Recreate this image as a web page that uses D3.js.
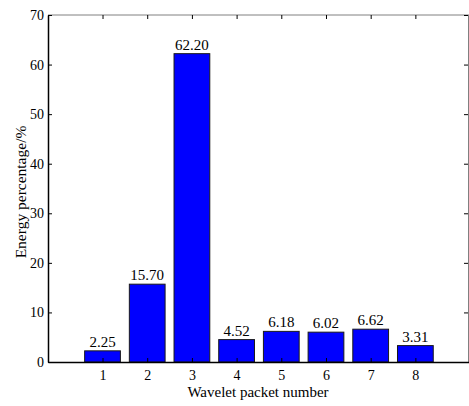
<!DOCTYPE html>
<html><head><meta charset="utf-8">
<script src="https://cdn.jsdelivr.net/npm/d3@7"></script>
<style>body{margin:0;background:#fff}svg{display:block}text{font-family:"Liberation Serif","Times New Roman",serif}</style>
</head><body>
<svg id="c" width="469" height="406"></svg>
<script>
const categories = [1,2,3,4,5,6,7,8];
const values = [2.25,15.70,62.20,4.52,6.18,6.02,6.62,3.31];
const valueLabels = ["2.25","15.70","62.20","4.52","6.18","6.02","6.62","3.31"];
const yTicks = [0,10,20,30,40,50,60,70];

const svg = d3.select("#c");
const L=48, R=469, T=15, B=362;
const x = d3.scaleLinear().domain([-0.22,9.2]).range([L,R]);
const y = d3.scaleLinear().domain([0,70]).range([B,T]);
const bw = x(0.8)-x(0);

// bars
svg.selectAll("rect.bar").data(values).enter().append("rect")
  .attr("x",(d,i)=>x(categories[i])-bw/2).attr("y",d=>y(d))
  .attr("width",bw).attr("height",d=>y(0)-y(d))
  .attr("fill","#0000ff").attr("stroke","#1a1a1a").attr("stroke-width",1);

svg.selectAll("text.vl").data(values).enter().append("text")
  .attr("x",(d,i)=>x(categories[i])).attr("y",d=>y(d)-4)
  .attr("text-anchor","middle").attr("font-size",15).attr("fill","#000")
  .text((d,i)=>valueLabels[i]);

// box
svg.append("line").attr("x1",L).attr("x2",R).attr("y1",T).attr("y2",T).attr("stroke","#808080").attr("stroke-width",1);
svg.append("line").attr("x1",R-0.5).attr("x2",R-0.5).attr("y1",T).attr("y2",B).attr("stroke","#808080").attr("stroke-width",1);

// axes
const yAxis = d3.axisLeft(y).tickValues(yTicks).tickSizeInner(-4).tickSizeOuter(0).tickPadding(4);
const gy = svg.append("g").attr("transform",`translate(${L},0)`).call(yAxis);
const yAxisR = d3.axisRight(y).tickValues(yTicks).tickSizeInner(-4).tickSizeOuter(0).tickFormat("");
const gyr = svg.append("g").attr("transform",`translate(${R-1},0)`).call(yAxisR);
gyr.select(".domain").remove();
const xAxis = d3.axisBottom(x).tickValues(categories).tickSizeInner(-4).tickSizeOuter(0).tickPadding(8);
const gx = svg.append("g").attr("transform",`translate(0,${B})`).call(xAxis);
const xAxisT = d3.axisTop(x).tickValues(categories).tickSizeInner(-4).tickSizeOuter(0).tickFormat("");
const gxt = svg.append("g").attr("transform",`translate(0,${T})`).call(xAxisT);
gxt.select(".domain").remove();

[gy,gyr,gx,gxt].forEach(g=>{
  g.selectAll("text").attr("font-family","Liberation Serif, serif").attr("font-size",14).attr("fill","#000");
  g.select(".domain").attr("stroke","#000").attr("stroke-width",1.5);
  g.selectAll(".tick line").attr("stroke","#000").attr("stroke-width",1);
});

svg.append("text").attr("x",258).attr("y",397).attr("text-anchor","middle")
  .attr("font-family","Liberation Serif, serif")
  .attr("font-size",15).attr("fill","#000").text("Wavelet packet number");
svg.append("text").attr("transform",`translate(26,192) rotate(-90)`).attr("text-anchor","middle")
  .attr("font-family","Liberation Serif, serif")
  .attr("font-size",15.5).attr("fill","#000").text("Energy percentage/%");
</script>
</body></html>
